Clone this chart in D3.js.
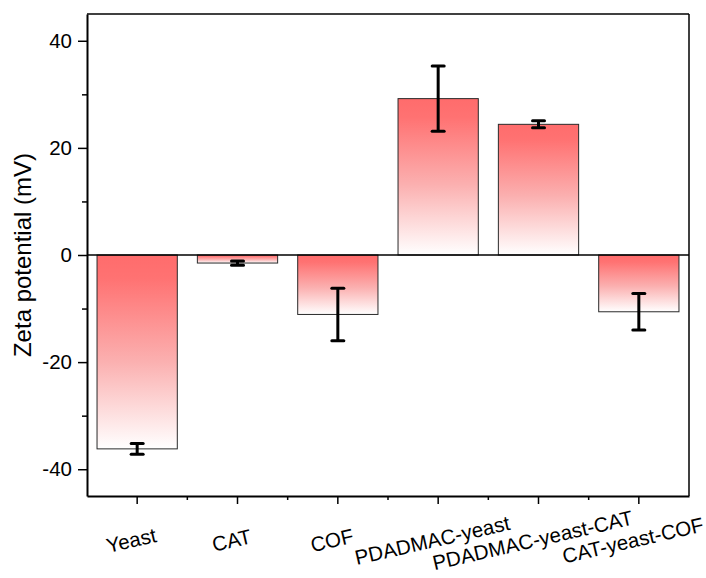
<!DOCTYPE html>
<html>
<head>
<meta charset="utf-8">
<script src="https://cdn.jsdelivr.net/npm/d3@7"></script>
<style>
  html, body { margin: 0; padding: 0; background: #fff; }
  svg { display: block; font-family: "Liberation Sans", Arial, sans-serif; }
</style>
</head>
<body>
<svg id="chart" width="706" height="578"></svg>
<script>
// Zeta potential of each sample (mV) with standard deviation
const categories = ["Yeast", "CAT", "COF", "PDADMAC-yeast", "PDADMAC-yeast-CAT", "CAT-yeast-COF"];
const zeta = [-36.2, -1.5, -11.1, 29.2, 24.4, -10.6];
const zetaErr = [1.0, 0.4, 4.9, 6.1, 0.65, 3.4];
const yTicks = [-40, -20, 0, 20, 40];
const yMinorTicks = [-30, -10, 10, 30];

const svg = d3.select("#chart");
const plotLeft = 87, plotRight = 689, plotTop = 14, plotBottom = 496;

const x = d3.scaleBand().domain(categories).range([plotLeft, plotRight]).paddingInner(0.2).paddingOuter(0.1);
const y = d3.scaleLinear().domain([-45, 45]).range([plotBottom, plotTop]);

// vertical fade: strong red at the top of each bar, white at its base
const grad = svg.append("defs").append("linearGradient")
  .attr("id", "barFade").attr("x1", 0).attr("y1", 0).attr("x2", 0).attr("y2", 1);
grad.append("stop").attr("offset", "0%").attr("stop-color", "#ff6c6c");
grad.append("stop").attr("offset", "12%").attr("stop-color", "#ff7272");
grad.append("stop").attr("offset", "55%").attr("stop-color", "#fbb0b0");
grad.append("stop").attr("offset", "100%").attr("stop-color", "#ffffff");

const rows = categories.map((c, i) => ({ c, v: zeta[i], e: zetaErr[i] }));

// bars
svg.append("g").selectAll("rect").data(rows).join("rect")
  .attr("x", d => x(d.c))
  .attr("width", x.bandwidth())
  .attr("y", d => y(Math.max(0, d.v)))
  .attr("height", d => Math.abs(y(d.v) - y(0)))
  .attr("fill", "url(#barFade)")
  .attr("stroke", "#2a2a2a")
  .attr("stroke-width", 1);

// zero line
svg.append("line")
  .attr("x1", plotLeft).attr("x2", plotRight)
  .attr("y1", y(0)).attr("y2", y(0))
  .attr("stroke", "#000").attr("stroke-width", 1.5);

// error bars
const eb = svg.append("g").attr("stroke", "#000").attr("stroke-width", 3);
rows.forEach(d => {
  const cx = x(d.c) + x.bandwidth() / 2;
  eb.append("line").attr("x1", cx).attr("x2", cx).attr("y1", y(d.v + d.e)).attr("y2", y(d.v - d.e));
  [d.v + d.e, d.v - d.e].forEach(v => {
    eb.append("line").attr("x1", cx - 6).attr("x2", cx + 6).attr("y1", y(v)).attr("y2", y(v))
      .attr("stroke-linecap", "round");
  });
});

// frame
svg.append("line").attr("x1", plotLeft).attr("x2", plotRight).attr("y1", plotTop).attr("y2", plotTop)
  .attr("stroke", "#000").attr("stroke-width", 1.5);
svg.append("line").attr("x1", plotRight).attr("x2", plotRight).attr("y1", plotTop).attr("y2", plotBottom)
  .attr("stroke", "#000").attr("stroke-width", 1.5);

// y axis (plain hyphen for negatives)
const yAxis = svg.append("g").attr("transform", `translate(${plotLeft},0)`)
  .call(d3.axisLeft(y).tickValues(yTicks).tickFormat(d => String(d))
    .tickSize(9).tickPadding(6).tickSizeOuter(0));
yAxis.select(".domain").attr("stroke-width", 2);
yAxis.selectAll(".tick line").attr("stroke-width", 1.5);
yAxis.selectAll("text").attr("font-size", 20.5).attr("fill", "#000")
  .attr("font-family", "'Liberation Sans', Arial, sans-serif");
svg.append("g").attr("transform", `translate(${plotLeft},0)`)
  .call(d3.axisLeft(y).tickValues(yMinorTicks).tickSize(5).tickFormat("").tickSizeOuter(0))
  .call(g => g.select(".domain").remove())
  .selectAll(".tick line").attr("stroke-width", 1.5);

// x axis: major ticks at bar centres, minor ticks at band boundaries
const xAxis = svg.append("g").attr("transform", `translate(0,${plotBottom})`)
  .call(d3.axisBottom(x).tickSize(8).tickSizeOuter(0).tickFormat(""));
xAxis.select(".domain").attr("stroke-width", 2);
xAxis.selectAll(".tick line").attr("stroke-width", 1.5);
const bounds = categories.slice(1).map(c => x(c) - x.step() * x.paddingInner() / 2);
svg.append("g").selectAll("line").data(bounds).join("line")
  .attr("x1", d => d).attr("x2", d => d)
  .attr("y1", plotBottom).attr("y2", plotBottom + 4)
  .attr("stroke", "#000").attr("stroke-width", 1.5);

// rotated category labels
svg.append("g").selectAll("text").data(categories).join("text")
  .attr("transform", d => `translate(${x(d) + x.bandwidth() / 2 - 6},${plotBottom + 44}) rotate(-13)`)
  .attr("text-anchor", "middle")
  .attr("dominant-baseline", "central")
  .attr("font-size", 20.5)
  .attr("fill", "#000")
  .text(d => d);

// y axis title
svg.append("text")
  .attr("transform", `translate(31,${(plotTop + plotBottom) / 2}) rotate(-90)`)
  .attr("text-anchor", "middle")
  .attr("font-size", 24)
  .attr("fill", "#000")
  .text("Zeta potential (mV)");
</script>
</body>
</html>
